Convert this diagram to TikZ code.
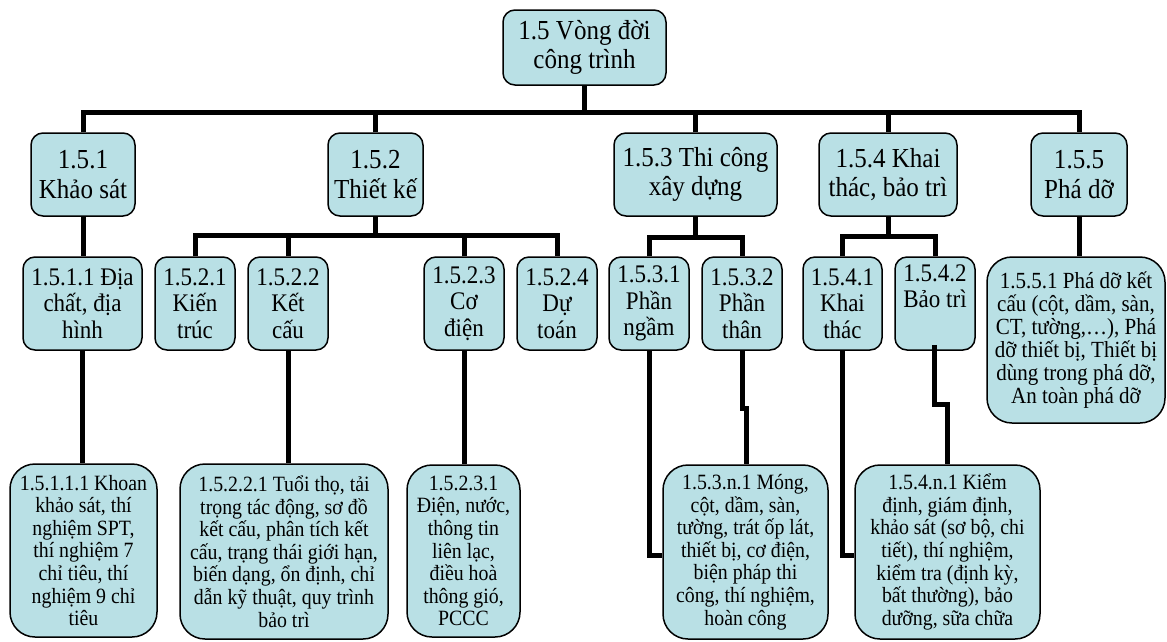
\documentclass[tikz,border=0pt]{standalone}
\usepackage{fontspec}
\setmainfont{Liberation Serif}[FakeStretch=0.91]
\usetikzlibrary{backgrounds,calc}
\definecolor{boxfill}{RGB}{185,224,229}
\tikzset{
  box/.style={draw=black, line width=1.5pt, fill=boxfill, rounded corners=12pt,
              align=center, inner sep=0pt},
  lvltop/.style={font=\fontsize{27.5}{29.5}\selectfont},
  lvlmid/.style={font=\fontsize{25.3}{26.7}\selectfont},
  lvlwide/.style={font=\fontsize{23.1}{23}\selectfont, rounded corners=25pt},
  lvlleaf/.style={font=\fontsize{21.8}{22.6}\selectfont, rounded corners=25pt},
  link/.style={line width=5pt, line join=miter, draw=black},
}
\begin{document}
\begin{tikzpicture}[x=1pt,y=-1pt]
\useasboundingbox (0,0) rectangle (1167,641);

% root
\node[box,lvltop,minimum width=163pt,minimum height=75pt] (root) at (584.5,47.5) {1.5 Vòng đời\\công trình};

% first level
\node[box,lvltop,minimum width=104pt,minimum height=83pt] (k151) at (83,174.5) {1.5.1\\Khảo sát};
\node[box,lvltop,minimum width=95pt,minimum height=83pt] (k152) at (375.5,174.5) {1.5.2\\Thiết kế};
\node[box,lvltop,minimum width=163pt,minimum height=83pt] (k153) at (695.5,174.5) {1.5.3 Thi công\\xây dựng};
\node[box,lvltop,minimum width=138pt,minimum height=83pt] (k154) at (888,174.5) {1.5.4 Khai\\thác, bảo trì};
\node[box,lvltop,minimum width=96pt,minimum height=83pt] (k155) at (1079,174.5) {1.5.5\\Phá dỡ};

% second level
\node[box,lvlmid,minimum width=119pt,minimum height=93pt] (k1511) at (82.5,303.5) {1.5.1.1 Địa\\chất, địa\\hình};
\node[box,lvlmid,minimum width=80pt,minimum height=93pt] (k1521) at (195,303.5) {1.5.2.1\\Kiến\\trúc};
\node[box,lvlmid,minimum width=80pt,minimum height=93pt] (k1522) at (288,303.5) {1.5.2.2\\Kết\\cấu};
\node[box,lvlmid,minimum width=80pt,minimum height=93pt] (k1523) at (464,303.5) {1.5.2.3\\Cơ\\điện};
\node[box,lvlmid,minimum width=80pt,minimum height=93pt] (k1524) at (557,303.5) {1.5.2.4\\Dự\\toán};
\node[box,lvlmid,minimum width=80pt,minimum height=93pt] (k1531) at (649,303.5) {1.5.3.1\\Phần\\ngầm};
\node[box,lvlmid,minimum width=80pt,minimum height=93pt] (k1532) at (742,303.5) {1.5.3.2\\Phần\\thân};
\node[box,lvlmid,minimum width=79pt,minimum height=93pt] (k1541) at (842.5,303.5) {1.5.4.1\\Khai\\thác};
\node[box,lvlmid,minimum width=80pt,minimum height=93pt] (k1542) at (935,303.5) {1.5.4.2\\Bảo trì\\\strut};
\node[box,lvlwide,minimum width=178pt,minimum height=166pt] (k1551) at (1076,340) {1.5.5.1 Phá dỡ kết\\cấu (cột, dầm, sàn,\\CT, tường,…), Phá\\dỡ thiết bị, Thiết bị\\dùng trong phá dỡ,\\An toàn phá dỡ};

% third level
\node[box,lvlleaf,minimum width=147pt,minimum height=173pt] (k15111) at (83.5,550.5) {1.5.1.1.1 Khoan\\khảo sát, thí\\nghiệm SPT,\\thí nghiệm 7\\chỉ tiêu, thí\\nghiệm 9 chỉ\\tiêu};
\node[box,lvlleaf,minimum width=208pt,minimum height=175pt] (k15221) at (284,551.5) {1.5.2.2.1 Tuổi thọ, tải\\trọng tác động, sơ đồ\\kết cấu, phân tích kết\\cấu, trạng thái giới hạn,\\biến dạng, ổn định, chỉ\\dẫn kỹ thuật, quy trình\\bảo trì};
\node[box,lvlleaf,minimum width=113pt,minimum height=172pt] (k15231) at (463.5,551) {1.5.2.3.1\\Điện, nước,\\thông tin\\liên lạc,\\điều hoà\\thông gió,\\PCCC};
\node[box,lvlleaf,minimum width=165pt,minimum height=174pt] (k153n1) at (745.5,552) {1.5.3.n.1 Móng,\\cột, dầm, sàn,\\tường, trát ốp lát,\\thiết bị, cơ điện,\\biện pháp thi\\công, thí nghiệm,\\hoàn công};
\node[box,lvlleaf,minimum width=185pt,minimum height=174pt] (k154n1) at (947.5,552) {1.5.4.n.1 Kiểm\\định, giám định,\\khảo sát (sơ bộ, chi\\tiết), thí nghiệm,\\kiểm tra (định kỳ,\\bất thường), bảo\\dưỡng, sữa chữa};

% connectors
\begin{scope}[on background layer]
  \coordinate (bar0) at (584.5,112);
  \draw[link] (root.south) -- (bar0);
  \draw[link] (k151.north) |- (bar0) -| (k155.north);
  \draw[link] (k152.north) -- (k152.north |- bar0);
  \draw[link] (k153.north) -- (k153.north |- bar0);
  \draw[link] (k154.north) -- (k154.north |- bar0);

  \draw[link] (k151.south) -- (k151.south |- k1511.north);
  \draw[link] (k155.south) -- (k155.south |- k1551.north);

  \coordinate (bar2) at (375.5,235);
  \draw[link] (k152.south) -- (bar2);
  \draw[link] (k1521.north) |- (bar2) -| (k1524.north);
  \draw[link] (k1522.north) -- (k1522.north |- bar2);
  \draw[link] (k1523.north) -- (k1523.north |- bar2);

  \coordinate (bar3) at (695.5,237);
  \draw[link] (k153.south) -- (bar3);
  \draw[link] (k1531.north) |- (bar3) -| (k1532.north);

  \coordinate (bar4) at (888,236);
  \draw[link] (k154.south) -- (bar4);
  \draw[link] (k1541.north) |- (bar4) -| (k1542.north);

  \draw[link] (k1511.south) -- (k1511.south |- k15111.north);
  \draw[link] (k1522.south) -- (k1522.south |- k15221.north);
  \draw[link] (k1523.south) -- (k1523.south |- k15231.north);

  \coordinate (j1) at (746,408);
  \draw[link] (k1531.south) |- ($(k153n1.west)+(0,3)$);
  \draw[link] (k1532.south) |- (j1) -- (j1 |- k153n1.north);
  \draw[link] (k1541.south) |- ($(k154n1.west)+(0,3)$);
\end{scope}

% this link starts just inside its upper box
\coordinate (j2) at (947,404);
\draw[link] ($(k1542.south)+(-1,-6)$) |- (j2) -- (j2 |- k154n1.north);
\end{tikzpicture}
\end{document}
